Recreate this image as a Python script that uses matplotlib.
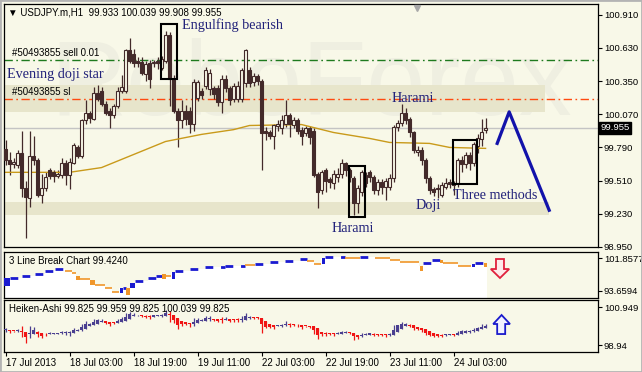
import matplotlib
matplotlib.use("Agg")
import matplotlib.pyplot as plt
from matplotlib.patches import Rectangle, Polygon
from matplotlib.transforms import blended_transform_factory
import numpy as np

plt.rcParams['font.family'] = ['Liberation Sans', 'DejaVu Sans']

# USDJPY.m H1 candles, 17 Jul 11:00 .. 24 Jul
opens = [99.78, 99.68, 99.65, 99.64, 99.74, 99.45, 99.36, 99.72, 99.68, 99.39,
         99.45, 99.60, 99.58, 99.55, 99.56, 99.66, 99.56, 99.66, 99.79, 99.72,
         100.02, 100.08, 100.03, 100.25, 100.27, 100.16, 100.10, 100.06, 100.14, 100.27,
         100.27, 100.61, 100.58, 100.52, 100.51, 100.41, 100.50, 100.50, 100.52, 100.46,
         100.52, 100.74, 100.37, 100.10, 100.02, 100.10, 100.10, 99.99, 100.21, 100.27,
         100.31, 100.28, 100.29, 100.29, 100.17, 100.37, 100.29, 100.20, 100.20, 100.20,
         100.33, 100.44, 100.34, 100.39, 100.35, 99.93, 99.92, 99.89, 99.97, 99.95,
         99.99, 100.06, 99.98, 100.02, 99.94, 99.91, 99.95, 99.93, 99.57, 99.43,
         99.60, 99.52, 99.49, 99.54, 99.57, 99.66, 99.60, 99.53, 99.32, 99.41,
         99.56, 99.58, 99.54, 99.43, 99.50, 99.46, 99.46, 99.53, 99.96, 100.00,
         100.08, 100.03, 99.92, 99.75, 99.77, 99.68, 99.53, 99.44, 99.44, 99.39,
         99.46, 99.50, 99.48, 99.49, 99.68, 99.65, 99.73, 99.66, 99.80, 99.86,
         99.933]
highs = [99.85, 99.75, 99.70, 99.77, 99.93, 99.51, 99.93, 99.89, 99.70, 99.57,
         99.58, 99.62, 99.60, 99.60, 99.70, 99.68, 99.70, 99.83, 99.81, 100.03,
         100.19, 100.10, 100.30, 100.32, 100.30, 100.18, 100.12, 100.16, 100.30, 100.40,
         100.62, 100.71, 100.62, 100.55, 100.55, 100.52, 100.53, 100.53, 100.55, 100.56,
         100.77, 100.76, 100.40, 100.12, 100.19, 100.15, 100.13, 100.37, 100.36, 100.29,
         100.47, 100.45, 100.31, 100.32, 100.40, 100.40, 100.31, 100.33, 100.35, 100.46,
         100.62, 100.47, 100.42, 100.41, 100.37, 99.96, 99.94, 99.99, 100.02, 100.06,
         100.19, 100.08, 100.05, 100.04, 99.96, 99.97, 99.97, 99.95, 99.58, 99.60,
         99.62, 99.54, 99.60, 99.62, 99.69, 99.67, 99.62, 99.55, 99.47, 99.60,
         99.58, 99.60, 99.56, 99.52, 99.52, 99.53, 99.57, 99.98, 100.02, 100.16,
         100.12, 100.05, 99.93, 99.80, 99.79, 99.70, 99.55, 99.46, 99.48, 99.50,
         99.53, 99.52, 99.51, 99.70, 99.72, 99.75, 99.75, 99.84, 99.90, 100.03,
         100.039]
lows = [99.64, 99.56, 99.62, 99.62, 99.37, 99.03, 99.29, 99.64, 99.37, 99.32,
        99.42, 99.52, 99.50, 99.53, 99.53, 99.47, 99.44, 99.65, 99.70, 99.70,
        99.99, 100.00, 100.02, 100.18, 100.14, 100.06, 99.95, 100.04, 100.12, 100.25,
        100.25, 100.50, 100.47, 100.47, 100.40, 100.35, 100.29, 100.47, 100.45, 100.44,
        100.50, 100.14, 100.08, 99.79, 99.95, 99.98, 99.91, 99.93, 100.18, 100.20,
        100.28, 100.23, 100.20, 100.14, 100.08, 100.26, 100.15, 100.17, 100.17, 100.17,
        100.30, 100.30, 100.31, 100.32, 99.60, 99.85, 99.86, 99.78, 99.93, 99.90,
        99.96, 99.88, 99.95, 99.90, 99.81, 99.89, 99.82, 99.54, 99.28, 99.40,
        99.41, 99.45, 99.44, 99.50, 99.53, 99.55, 99.50, 99.22, 99.24, 99.38,
        99.46, 99.50, 99.40, 99.39, 99.40, 99.35, 99.43, 99.50, 99.93, 99.97,
        99.99, 99.88, 99.74, 99.72, 99.64, 99.49, 99.40, 99.38, 99.36, 99.37,
        99.44, 99.45, 99.39, 99.46, 99.58, 99.62, 99.60, 99.63, 99.74, 99.80,
        99.908]
closes = [99.68, 99.65, 99.67, 99.74, 99.45, 99.37, 99.72, 99.68, 99.39, 99.45,
          99.54, 99.55, 99.55, 99.57, 99.66, 99.56, 99.67, 99.81, 99.72, 100.02,
          100.08, 100.04, 100.25, 100.20, 100.16, 100.08, 100.06, 100.14, 100.27, 100.30,
          100.61, 100.52, 100.50, 100.50, 100.42, 100.49, 100.37, 100.51, 100.50, 100.54,
          100.74, 100.37, 100.10, 100.02, 100.10, 100.03, 99.99, 100.34, 100.34, 100.23,
          100.44, 100.42, 100.24, 100.17, 100.37, 100.29, 100.19, 100.31, 100.31, 100.44,
          100.61, 100.33, 100.39, 100.35, 99.91, 99.91, 99.89, 99.98, 99.99, 100.02,
          100.06, 99.99, 100.02, 99.93, 99.89, 99.95, 99.88, 99.56, 99.41, 99.58,
          99.51, 99.50, 99.57, 99.57, 99.66, 99.60, 99.54, 99.32, 99.45, 99.58,
          99.49, 99.54, 99.43, 99.50, 99.46, 99.51, 99.53, 99.96, 100.00, 100.08,
          100.02, 99.92, 99.77, 99.77, 99.68, 99.53, 99.43, 99.41, 99.45, 99.47,
          99.49, 99.48, 99.47, 99.68, 99.65, 99.73, 99.66, 99.82, 99.87, 99.92,
          99.955]

# moving average (gold line), read at a few bars
ma_idx = [0, 16, 24, 32, 40, 49, 57, 61, 74, 82, 91, 96, 106, 111, 120]
ma_val = [99.58, 99.58, 99.62, 99.73, 99.84, 99.90, 99.94, 99.975, 99.983, 99.916,
          99.866, 99.832, 99.824, 99.79, 99.782]

# order levels, zones and bid
sell_level = 100.53
sl_level = 100.20
bid_level = 99.955
zone_hi = [100.32, 99.33]
zone_lo = [100.09, 99.22]
zone_end = [134.9, 135.9]

main_ticks = [98.950, 99.230, 99.510, 99.790, 100.070, 100.350, 100.630, 100.910]
time_pos = [0, 16, 32, 48, 64, 80, 96, 112]
time_labels = ["17 Jul 2013", "18 Jul 03:00", "18 Jul 19:00", "19 Jul 11:00",
               "22 Jul 03:00", "22 Jul 19:00", "23 Jul 11:00", "24 Jul 03:00"]

# 3 Line Break indicator segments
lb_start = [-0.4, 1.1, 4.1, 7.4, 9.9, 12.4, 14.9, 16.6, 17.6, 18.6,
            21.1, 22.4, 24.9, 26.6, 28.4, 29.4, 30.1, 31.1, 32.4, 35.6,
            37.6, 39.1, 40.1, 41.4, 42.4, 46.1, 49.9, 54.9, 59.9, 62.4,
            66.1, 69.9, 73.6, 75.4, 77.1, 78.9, 79.9, 84.9, 88.6, 92.4,
            96.1, 98.6, 103.4, 104.4, 106.6, 108.6, 109.4, 113.1, 116.4, 117.4,
            119.4]
lb_end = [1.1, 4.1, 7.4, 9.9, 12.4, 14.9, 16.6, 17.6, 18.6, 21.1,
          22.4, 24.9, 26.6, 28.4, 29.4, 30.1, 31.1, 32.4, 35.6, 37.6,
          39.1, 40.1, 41.4, 42.4, 46.1, 49.9, 54.9, 59.9, 62.4, 66.1,
          69.9, 73.6, 75.4, 77.1, 78.9, 79.9, 84.9, 88.6, 92.4, 96.1,
          98.6, 103.4, 104.4, 106.6, 108.6, 109.4, 113.1, 116.4, 117.4, 119.4,
          120.4]
lb_top = [96.89, 96.89, 97.39, 97.88, 98.63, 99.12, 98.63, 98.13, 97.39, 96.64,
          96.39, 95.15, 94.41, 93.41, 94.41, 94.41, 94.41, 95.65, 96.14, 96.89,
          97.39, 97.88, 97.39, 98.38, 98.63, 99.12, 99.62, 99.87, 100.12, 100.37,
          100.86, 101.11, 101.61, 101.11, 100.37, 101.86, 102.10, 101.86, 102.10, 101.86,
          101.36, 100.86, 99.87, 100.61, 101.36, 101.36, 100.61, 99.87, 100.37, 100.61,
          100.61]
lb_bot = [94.90, 96.89, 97.39, 97.88, 98.63, 99.12, 98.63, 98.13, 96.39, 96.64,
          95.15, 95.15, 94.41, 93.41, 93.16, 94.41, 92.67, 94.41, 96.14, 96.89,
          97.39, 96.64, 97.39, 96.64, 98.63, 99.12, 99.62, 99.87, 100.12, 100.37,
          100.86, 101.11, 101.61, 101.11, 100.37, 100.37, 102.10, 101.86, 102.10, 101.86,
          101.36, 100.86, 98.63, 100.61, 101.36, 100.61, 100.61, 99.87, 99.62, 100.61,
          99.62]
lb_dir = ['b', 'b', 'b', 'b', 'b', 'b', 'o', 'o', 'o', 'o',
          'o', 'o', 'o', 'o', 'b', 'b', 'o', 'b', 'b', 'b',
          'b', 'o', 'o', 'b', 'b', 'b', 'b', 'b', 'o', 'b',
          'b', 'b', 'b', 'o', 'o', 'b', 'b', 'o', 'b', 'o',
          'o', 'o', 'o', 'b', 'b', 'o', 'o', 'o', 'b', 'b',
          'o']

BG = '#f8f8e8'
CANDLE = '#432a2a'
W, H = 642, 372


def frac(x0, y0, x1, y1):
    return [x0 / W, 1 - y1 / H, (x1 - x0) / W, (y1 - y0) / H]


def style_axis(ax):
    ax.set_facecolor(BG)
    for s in ax.spines.values():
        s.set_color('black')
        s.set_linewidth(0.9)
    ax.yaxis.tick_right()
    ax.tick_params(axis='y', direction='out', length=3, width=0.8, labelsize=6.8,
                   pad=1.2, colors='black')
    ax.set_xlim(-0.375, 148.1)


fig = plt.figure(figsize=(6.42, 3.72), dpi=100, facecolor=BG)
ax = fig.add_axes(frac(4, 4, 598, 247))
ax_lb = fig.add_axes(frac(4, 252, 598, 298))
ax_ha = fig.add_axes(frac(4, 300, 598, 352))

# ---- main chart ----
style_axis(ax)
ax.set_ylim(98.95, 101.0)
ax.set_yticks(main_ticks)
ax.set_yticklabels([f"{v:.3f}" for v in main_ticks])
ax.set_xticks([])

ax.text(0.078, 0.545, "RoboForex", transform=ax.transAxes, fontsize=76,
        color='#efefe1', va='baseline', ha='left', zorder=0.3)

for hi, lo, end in zip(zone_hi, zone_lo, zone_end):
    ax.add_patch(Rectangle((-0.375, lo), end + 0.375, hi - lo, color='#e7e5cb',
                           lw=0, zorder=0.5))

ax.axhline(bid_level, color='#c4c4c4', lw=1, zorder=1)
ax.axhline(sell_level, color='#1e7a1e', lw=1, ls=(0, (6, 2.5, 1.2, 2.5)), zorder=1)
ax.axhline(sl_level, color='#ff4a10', lw=1, ls=(0, (6, 2.5, 1.2, 2.5)), zorder=1)

o = np.array(opens)
h = np.array(highs)
l = np.array(lows)
c = np.array(closes)
x = np.arange(len(c))
up = c >= o
ax.vlines(x, l, h, color=CANDLE, lw=0.9, zorder=2)
body_lo = np.minimum(o, c)
body_h = np.maximum(np.abs(c - o), 0.004)
ax.bar(x, body_h, bottom=body_lo, width=0.62,
       color=[BG if u else CANDLE for u in up], edgecolor=CANDLE, linewidth=0.8, zorder=3)

ax.plot(ma_idx, ma_val, color='#c99a1a', lw=1.0, zorder=2.5)

ax.text(0.0067, 0.963, "\u25bc USDJPY.m,H1  99.933 100.039 99.908 99.955",
        transform=ax.transAxes, fontsize=7, va='center', ha='left', zorder=6)
ax.text(1.6, 100.59, "#50493855 sell 0.01", fontsize=7, va='center', zorder=6)
ax.text(1.6, 100.26, "#50493855 sl", fontsize=7, va='center', zorder=6)

NAVY = '#22227a'
serif = dict(family='Liberation Serif', fontsize=10.2, color=NAVY, va='center',
             ha='left', zorder=6)
ax.text(44.1, 100.823, "Engulfing bearish", **serif)
ax.text(0.4, 100.403, "Evening doji star", **serif)
ax.text(96.4, 100.20, "Harami", **serif)
ax.text(81.4, 99.11, "Harami", **serif)
ax.text(102.6, 99.30, "Doji", **serif)
ax.text(111.9, 99.387, "Three methods", **serif)

for bx0, bx1, by0, by1 in [(38.9, 42.9, 100.37, 100.832),
                           (85.9, 89.9, 99.20, 99.63),
                           (111.9, 117.9, 99.479, 99.849)]:
    ax.add_patch(Rectangle((bx0, by0), bx1 - bx0, by1 - by0, fill=False,
                           ec='black', lw=1.5, zorder=5))

ax.plot([122.9, 125.9, 135.9], [99.824, 100.09, 99.26], color='#1212aa', lw=2.3,
        zorder=5)

ax.plot([0.695], [0.985], marker='v', ms=5, color='#a8a8a8', transform=ax.transAxes,
        clip_on=False, zorder=6)

tr = blended_transform_factory(ax.transAxes, ax.transData)
ax.text(1.004, bid_level, "99.955", transform=tr, fontsize=6.8, color='white',
        va='center', ha='left', clip_on=False, zorder=10,
        bbox=dict(boxstyle='square,pad=0.15', fc='black', ec='black'))

# ---- 3 Line Break panel ----
style_axis(ax_lb)
ax_lb.set_ylim(91.92, 103.35)
ax_lb.set_yticks([93.6594, 101.8577])
ax_lb.set_yticklabels(["93.6594", "101.8577"])
ax_lb.set_xticks([])
LB_COL = {'b': '#1a1ad0', 'o': '#f0962a'}
for s, e, t, b, d in zip(lb_start, lb_end, lb_top, lb_bot, lb_dir):
    ax_lb.fill_between([s, e], [t, t], [91.92, 91.92], color='white', lw=0, zorder=1)
for s, e, t, b, d in zip(lb_start, lb_end, lb_top, lb_bot, lb_dir):
    if t - b > 0.01:
        ax_lb.add_patch(Rectangle((s + 0.1, b), e - s - 0.2, t - b, color=LB_COL[d],
                                  lw=0, zorder=3))
    elif d == 'b':
        ax_lb.hlines(t, s, e, color=LB_COL[d], lw=2.0, ls=(0, (2.8, 2.8)), zorder=3)
    else:
        ax_lb.hlines(t, s, e, color=LB_COL[d], lw=1.2, zorder=3)
ax_lb.text(0.0084, 0.80, "3 Line Break Chart 99.4240", transform=ax_lb.transAxes,
           fontsize=7, va='center', ha='left', zorder=6)
ax_lb.add_patch(Polygon([(122.6, 101.61), (124.6, 101.61), (124.6, 99.12),
                         (125.9, 99.12), (123.6, 96.89), (121.3, 99.12),
                         (122.6, 99.12)], closed=True, fc='#fdeaea', ec='#e0203c',
                        lw=1.3, zorder=6))

# ---- Heiken-Ashi panel ----
style_axis(ax_ha)
ax_ha.set_ylim(98.57, 101.32)
ax_ha.set_yticks([98.94, 100.949])
ax_ha.set_yticklabels(["98.94", "100.949"])
ha_c = (o + h + l + c) / 4
ha_o = np.empty_like(ha_c)
ha_o[0] = (o[0] + c[0]) / 2
for i in range(1, len(ha_c)):
    ha_o[i] = (ha_o[i - 1] + ha_c[i - 1]) / 2
ha_h = np.maximum.reduce([h, ha_o, ha_c])
ha_l = np.minimum.reduce([l, ha_o, ha_c])
ha_cols = ['#4a3f90' if cc >= oo else '#f01414' for oo, cc in zip(ha_o, ha_c)]
ax_ha.vlines(x, ha_l, ha_h, color=ha_cols, lw=0.9, zorder=2)
ax_ha.bar(x, np.maximum(np.abs(ha_c - ha_o), 0.05), bottom=np.minimum(ha_o, ha_c),
          width=0.8, color=ha_cols, lw=0, zorder=3)
ax_ha.text(0.0084, 0.827, "Heiken-Ashi 99.825 99.959 99.825 100.039 99.825",
           transform=ax_ha.transAxes, fontsize=7, va='center', ha='left', zorder=6)
ax_ha.add_patch(Polygon([(124.0, 100.526), (126.1, 100.05), (124.9, 100.05),
                         (124.9, 99.52), (122.9, 99.52), (122.9, 100.05),
                         (121.9, 100.05)], closed=True, fc='#f2f2ff', ec='#1a1acc',
                        lw=1.3, zorder=6))
ax_ha.set_xticks(time_pos)
ax_ha.set_xticklabels(time_labels, ha='left', fontsize=7)
ax_ha.tick_params(axis='x', direction='out', length=3, width=0.8, pad=1)

fig.patches.append(Rectangle((0, 0), 1, 1, transform=fig.transFigure, fill=False,
                             ec='#b4b4b4', lw=2))

fig.savefig("out.png", dpi=100, facecolor=BG)
